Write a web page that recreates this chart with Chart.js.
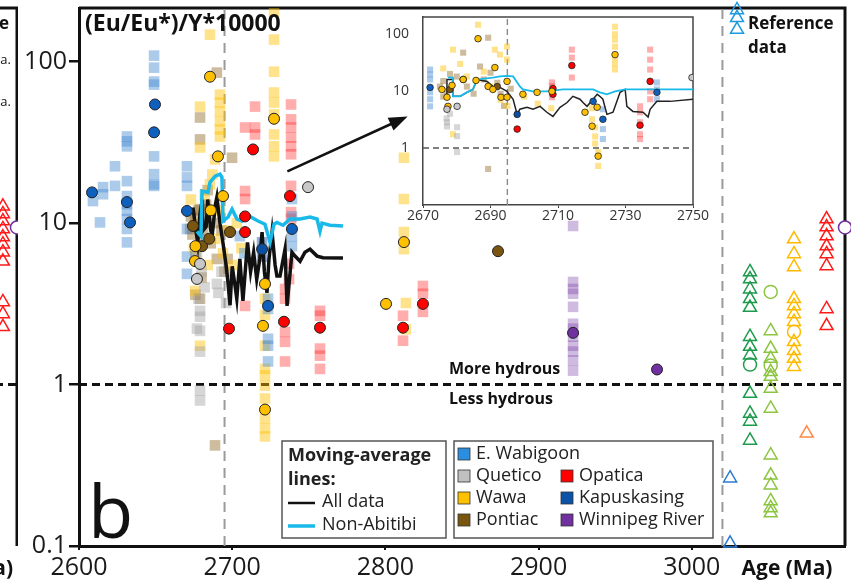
<!DOCTYPE html>
<html>
<head>
<meta charset="utf-8">
<script src="https://cdn.jsdelivr.net/npm/chart.js@4.4.0/dist/chart.umd.min.js"></script>
<style>
  html, body { margin: 0; padding: 0; background: #fff; overflow: hidden; }
  #wrap { position: relative; width: 851px; height: 583px; overflow: hidden; }
  canvas { position: absolute; }
  #prev { left: -200px; top: 0; }
  #main { left: 0; top: 0; }
  #inset { left: 370px; top: 0; }
</style>
</head>
<body>
<div id="wrap">
  <canvas id="prev" width="218" height="583"></canvas>
  <canvas id="main" width="851" height="583"></canvas>
  <canvas id="inset" width="345" height="230"></canvas>
</div>
<script>
// ages in Ma, values are (Eu/Eu*)/Y*10000
const xTicks = [2600, 2700, 2800, 2900, 3000];
const yTicks = [0.1, 1, 10, 100];
const insetXTicks = [2670, 2690, 2710, 2730, 2750];
const insetYTicks = [1, 10, 100];
const hydrousLimit = 1;
const ageCut = 2695;
const refCut = 3020;

const groups = ['E. Wabigoon', 'Quetico', 'Wawa', 'Pontiac', 'Opatica', 'Kapuskasing', 'Winnipeg River'];

// zircon analyses (squares) and sample means (circles)
const wabigoonSq = [
  [2609.1, 13.7], [2615.7, 16.7], [2615.7, 15.1], [2613.7, 10.1], [2623.5, 22.5], [2623.5, 17.0],
  [2631.3, 34.4], [2631.3, 32.1], [2631.3, 29.9], [2631.3, 18.2], [2631.3, 14.7], [2631.3, 13.1],
  [2631.3, 11.9], [2631.3, 10.6], [2631.3, 9.2], [2631.3, 7.6],
  [2649.0, 109], [2649.0, 91.8], [2649.0, 75.3], [2649.0, 72.1], [2649.0, 25.9], [2649.0, 20.1],
  [2649.0, 17.4], [2649.0, 17.0],
  [2670.5, 22.5], [2670.5, 19.2], [2670.5, 17.0], [2670.5, 9.2], [2670.5, 6.2], [2670.5, 4.85],
  [2723.4, 3.4], [2723.4, 2.94], [2723.4, 1.92], [2723.4, 1.74], [2723.4, 1.39],
  [2739.0, 14.1], [2739.0, 11.0], [2739.0, 8.3], [2739.0, 7.2], [2705, 8.3], [2708, 6.5]
];
const wabigoonDot = [[2608.5, 15.5], [2631.3, 13.5], [2633.3, 10.1], [2649.6, 54.3], [2649.0, 36.5],
  [2670.5, 11.9], [2739.0, 9.2], [2723.4, 3.07]];

const queticoSq = [[2679, 2.86], [2679, 2.63], [2677, 2.22], [2679, 2.15], [2679, 1.6], [2679, 0.918],
  [2679, 0.797], [2677, 6.5], [2680, 5], [2682, 4], [2690, 4.2], [2691, 3.7], [2693, 5], [2696, 3.2], [2678, 3.4]];
const queticoDot = [[2679, 5.59], [2677, 4.51], [2749.5, 16.7]];

const wawaSq = [
  [2685.5, 147], [2679, 52.7], [2679, 29.4], [2692, 62.5], [2692, 55.8], [2692, 49.1], [2692, 42.6],
  [2692, 38], [2692, 34.4], [2688.8, 24.8], [2685.5, 17.4],
  [2727.3, 204], [2727.3, 137], [2727.3, 86.7], [2727.3, 64.4], [2727.3, 55.8], [2727.3, 47.1],
  [2727.3, 35.4], [2727.3, 29.9], [2727.3, 25.9],
  [2675.7, 3.8], [2679, 1.74], [2721.4, 3.4], [2721.4, 2.7], [2721.4, 1.74], [2721.4, 1.25], [2721.4, 1.14],
  [2721.4, 0.986], [2721.4, 0.82], [2721.4, 0.617], [2721.4, 0.535], [2721.4, 0.477],
  [2812.1, 25.4], [2812.1, 14.1], [2812.1, 8.8], [2812.1, 6.9], [2813.4, 3.2], [2813.4, 2.2],
  [2673, 14], [2675, 7], [2677, 10], [2682, 15], [2684, 5.5], [2687, 20], [2689, 8], [2692, 12],
  [2694, 6.5], [2697, 9], [2700, 5.5], [2703, 10], [2706, 7]
];
const wawaDot = [[2685.5, 80.7], [2690.7, 25.9], [2727.3, 44.3], [2675.7, 5.82], [2721.4, 4.2], [2720.1, 2.31],
  [2721.4, 0.70], [2812.1, 7.63], [2800.4, 3.16], [2694, 14.7], [2686, 12], [2676, 7.2]];

const pontiacSq = [[2690, 85.5], [2679, 45.1], [2679, 33], [2699.9, 25.4], [2688.8, 0.42], [2679, 3.4],
  [2672.5, 9.2], [2675.7, 10.6], [2679, 12.2], [2682, 8], [2673, 11], [2674, 8.5], [2676, 6.5], [2678, 12],
  [2681, 9], [2683, 13], [2686, 7.5], [2688, 10], [2690, 6], [2693, 9], [2695, 5], [2676, 3.6], [2680, 4.6],
  [2684, 16], [2697, 6]];
const pontiacDot = [[2674.4, 9.6], [2680.3, 7.2], [2698.6, 8.8], [2873.5, 6.7], [2685, 8]];

const opaticaSq = [
  [2708.4, 39.1], [2714.9, 52.7], [2714.9, 39.1], [2714.9, 35.4],
  [2738.4, 54.3], [2738.4, 43.9], [2738.4, 39.1], [2738.4, 33.9], [2738.4, 29.9], [2738.4, 26.7],
  [2738.4, 17.0], [2738.4, 11.7], [2738.4, 10.6],
  [2708.4, 15.8], [2708.4, 14.1], [2708.4, 3.07],
  [2734.5, 3.91], [2734.5, 3.4], [2734.5, 2.12], [2734.5, 1.84], [2734.5, 1.39],
  [2757.3, 2.86], [2757.3, 2.67], [2757.3, 1.67], [2757.3, 1.51], [2757.3, 1.25],
  [2811.5, 2.67], [2811.5, 1.87], [2824.5, 4.08], [2824.5, 3.65], [2824.5, 2.82],
  [2737.1, 4.5], [2737.1, 5.6]
];
const opaticaDot = [[2713.6, 28.6], [2737.7, 14.7], [2708.4, 11.0], [2708.4, 8.8], [2697.9, 2.22],
  [2733.8, 2.45], [2757.3, 2.25], [2811.5, 2.25], [2824.5, 3.16]];

const kapuskasingSq = [[2719.5, 7.6], [2719.5, 6.2]];
const kapuskasingDot = [[2719.5, 6.9]];

const winnipegSq = [[2922.5, 9.6], [2922.5, 4.32], [2922.5, 3.91], [2922.5, 3.65], [2922.5, 3.03],
  [2922.5, 2.38], [2922.5, 2.22], [2922.5, 1.98], [2922.5, 1.74], [2922.5, 1.6], [2922.5, 1.41], [2922.5, 1.22]];
const winnipegDot = [[2922.5, 2.09], [2977.3, 1.24]];

// moving averages
const allDataAvg = [
  [2674.4, 12.5], [2676, 9.5], [2677.5, 7.5], [2679, 11.5], [2680.5, 14], [2681, 9], [2683, 9.5],
  [2684, 14], [2686, 9], [2687, 8.5], [2689, 13], [2690, 14.5], [2692, 10], [2694, 7.5], [2696, 5.5],
  [2697, 4.5], [2698.6, 3.1], [2700, 5.4], [2702, 4], [2703, 3.4], [2705, 6], [2707, 3.3], [2708.5, 5],
  [2710, 7.6], [2712, 5], [2714, 6.6], [2716, 4.5], [2718, 6], [2719.5, 8.8], [2721, 5], [2722.7, 3.7],
  [2724, 6], [2726, 8.8], [2728, 5.5], [2729.2, 4.7], [2731.2, 4.7], [2734.5, 6.9], [2735.8, 3.07],
  [2739, 6.6], [2741, 6.25], [2744.3, 5.8], [2747.5, 6.6], [2750.8, 6.9], [2755.4, 6.25], [2759.3, 6.1],
  [2772.3, 6.07]
];
const nonAbitibiAvg = [
  [2677.0, 8.9], [2679.6, 8.3], [2680.3, 15.8], [2684.2, 15.5], [2685.5, 17.9], [2688.8, 19.5],
  [2692.0, 20.1], [2693.3, 19.2], [2694.0, 10.3], [2697.3, 10.9], [2699.9, 12.2], [2703.1, 10.6],
  [2706.4, 10.3], [2711.6, 11.0], [2716.8, 10.3], [2721.4, 9.85], [2724.7, 7.6], [2727.3, 9.85],
  [2729.2, 10.1], [2733.2, 9.7], [2737.7, 10.6], [2744.3, 10.6], [2750.8, 10.9], [2755.4, 10.6],
  [2757.3, 8.9], [2758.6, 10.0], [2763.8, 9.7], [2772.3, 9.6]
];

// reference data column
const refKeyTri = [[3029.5, 209], [3029.5, 187], [3029.5, 158]];
const refBlueTri = [[3025, 0.263], [3025, 0.104]];
const refGreenTri = [[3038, 4.98], [3038, 4.5], [3038, 3.9], [3038, 3.4], [3038, 3.0], [3038, 1.98],
  [3038, 1.72], [3038, 1.52], [3038, 0.88], [3038, 0.662], [3038, 0.591], [3038, 0.451]];
const refGreenDot = [[3038, 1.33]];
const refLimeTri = [[3051.5, 2.15], [3051.5, 1.67], [3051.5, 1.45], [3051.5, 1.2], [3051.5, 1.12],
  [3051.5, 0.945], [3051.5, 0.711], [3051.5, 0.365], [3051.5, 0.274], [3051.5, 0.238], [3051.5, 0.19],
  [3051.5, 0.172], [3051.5, 0.16]];
const refLimeDot = [[3051.5, 3.75], [3051.5, 1.31]];
const refGoldTri = [[3066.7, 7.97], [3066.7, 6.44], [3066.7, 5.35], [3066.7, 3.4], [3066.7, 3.07],
  [3066.7, 2.74], [3066.7, 2.45], [3066.7, 1.84], [3066.7, 1.62], [3066.7, 1.45], [3066.7, 1.29]];
const refGoldDot = [[3066.7, 2.12]];
const refOrangeTri = [[3075, 0.499]];
const refRedTri = [[3088, 10.6], [3088, 9.45], [3088, 8.31], [3088, 7.21], [3088, 6.44], [3088, 5.43],
  [3088, 2.94], [3088, 2.31]];
const refPurpleDot = [[3100, 9.4]];

const arrowFrom = [2736, 20.9];
const arrowTo = [2814.5, 45.8];

// inset, 2670-2750 Ma
const insetWabigoonSq = [[2672.1, 23.9], [2672.1, 19.6], [2672.1, 16], [2672.1, 9.5], [2672.1, 7.2],
  [2672.1, 5.4], [2723.3, 4.8], [2723.3, 2.15], [2723.3, 1.44], [2739.3, 14.2], [2739.3, 10.7], [2739.3, 7.2]];
const insetWabigoonDot = [[2672.1, 11.6], [2720.4, 6.6], [2723.3, 3.2], [2739.3, 9.5]];
const insetKapuskasingDot = [[2697.9, 3.9]];
const insetOpaticaSq = [[2708.2, 14.2], [2708.2, 12.1], [2708.2, 9.9], [2708.2, 7.8], [2714.1, 53.4],
  [2714.1, 38.7], [2714.1, 17.3], [2734.3, 5.4], [2734.3, 4.25], [2734.3, 2.84], [2734.3, 1.75],
  [2734.3, 1.44], [2737.3, 53.4], [2737.3, 35.7], [2737.3, 23.9], [2737.3, 9.9], [2737.3, 7.2]];
const insetOpaticaDot = [[2697.9, 2.15], [2708.5, 11.1], [2708.5, 8.8], [2714.1, 28.1], [2734.3, 2.52], [2737.3, 14.8]];
const insetWawaSq = [[2678.9, 53.4], [2678.9, 1.75], [2686.3, 146], [2691.3, 53.4], [2692.8, 43.7],
  [2694.9, 35.7], [2694.9, 60.3], [2676, 25], [2681, 30], [2683, 18], [2688, 22], [2690, 12], [2693, 7],
  [2695, 5.5], [2700, 8], [2704, 6], [2708, 5], [2720, 5], [2720.1, 3.2], [2721, 2.3], [2721, 1.6],
  [2721, 1.2], [2721.9, 0.85], [2721.9, 0.485], [2726.9, 135], [2726.9, 100], [2726.9, 80], [2726.9, 60],
  [2726.9, 38], [2726.9, 30], [2726.9, 24]];
const insetWawaDot = [[2675.6, 10.7], [2677.1, 7.8], [2677.4, 5.4], [2678.6, 12.6], [2681.9, 16],
  [2685.7, 15.4], [2686.3, 83.2], [2689.3, 12.1], [2691.3, 25.9], [2690.7, 10.7], [2693.1, 7.8],
  [2694.9, 14.8], [2694.9, 7.8], [2699.6, 8.8], [2703.8, 9.5], [2708.2, 9.9], [2718, 4.25], [2720.1, 2.42],
  [2721.6, 5.2], [2721.9, 0.72], [2726.9, 43.7]];
const insetPontiacSq = [[2676, 15], [2676, 8], [2678, 20], [2681.9, 47.3], [2689.3, 86.6], [2686.9, 27],
  [2689.3, 0.43], [2675, 12], [2677, 10], [2680, 18], [2683, 12], [2685, 9], [2688, 16], [2690, 21],
  [2692, 14], [2693, 9], [2694, 5.5], [2696, 11]];
const insetPontiacDot = [[2678, 10.7], [2681.9, 16], [2692, 12]];
const insetQueticoSq = [[2677.1, 2.84], [2677.1, 2.4], [2680.1, 2.32], [2680.1, 1.62], [2680.1, 0.85],
  [2678, 4], [2677, 3.3]];
const insetQueticoDot = [[2677.1, 4.8], [2680.1, 5.4], [2749.7, 17.3]];
const insetAllAvg = [[2677.1, 8.5], [2677.1, 16], [2678.9, 16], [2678.9, 8.1], [2681, 8.1], [2683, 9.5],
  [2684.8, 10.7], [2686, 16], [2689, 14.8], [2690.7, 12.1], [2692.8, 11.6], [2694.9, 9.9], [2696.7, 7.2],
  [2697.9, 3.9], [2698.7, 4.8], [2700.8, 5.2], [2702.6, 4.8], [2704.7, 5.4], [2706.7, 4.25], [2708.5, 3.6],
  [2710.6, 5.2], [2712.7, 6.3], [2714.4, 8.1], [2716.5, 7.2], [2717.4, 6.3], [2718.6, 5.4], [2720.4, 7.2],
  [2721.6, 8.8], [2722.4, 8.1], [2723.3, 7.2], [2724.5, 3.9], [2726.3, 4.25], [2728.4, 9.5], [2729.9, 10.7],
  [2730.4, 5.4], [2732.2, 4.4], [2735.2, 4.25], [2736.7, 3.5], [2737.3, 4.8], [2739.3, 6.6], [2743.2, 6.6],
  [2750, 7.2]];
const insetNonAbitibiAvg = [[2677.4, 17.3], [2678.9, 17.3], [2678.9, 8.1], [2681, 8.1], [2683, 9.5],
  [2684.8, 10.7], [2686, 16], [2690.7, 17.3], [2692.8, 18.1], [2694.9, 18.5], [2696.7, 18.1], [2698.7, 12.1],
  [2699.6, 10.7], [2702.6, 9.9], [2706.7, 9.9], [2711.5, 10.7], [2716.5, 10.7], [2720.4, 10.7], [2722.4, 9.5],
  [2724.5, 8.8], [2726.9, 9.9], [2729.9, 10.7], [2750, 10.7]];

// previous panel edge
const prevRedTri = [[0.935, 12.7], [0.935, 11.4], [0.935, 10.3], [0.935, 9.2], [0.935, 8.2], [0.935, 7.4],
  [0.935, 6.6], [0.935, 5.8], [0.935, 3.25], [0.935, 2.74], [0.935, 2.28]];
const prevPurpleDot = [[1, 9.4]];

// ---- styling ----
const FONT = "'Open Sans', 'DejaVu Sans', sans-serif";
Chart.defaults.font.family = FONT;

const groupColor = {
  'E. Wabigoon': '#2a8fe0', 'Quetico': '#c0c0c0', 'Wawa': '#ffc000', 'Pontiac': '#7a5510',
  'Opatica': '#ff0000', 'Kapuskasing': '#0b52a8', 'Winnipeg River': '#7030a0'
};
const squareFill = {
  'E. Wabigoon': 'rgba(70,140,210,0.45)', 'Quetico': 'rgba(165,165,165,0.45)', 'Wawa': 'rgba(255,192,0,0.45)',
  'Pontiac': 'rgba(135,95,25,0.42)', 'Opatica': 'rgba(255,40,40,0.38)', 'Kapuskasing': 'rgba(10,80,170,0.45)',
  'Winnipeg River': 'rgba(112,48,160,0.33)'
};
const dotFill = {
  'E. Wabigoon': '#0f5fbd', 'Quetico': '#c8c8c8', 'Wawa': '#ffc000', 'Pontiac': '#7a5510',
  'Opatica': '#ff0000', 'Kapuskasing': '#0b4fa0', 'Winnipeg River': '#7030a0'
};
const CYAN = '#19b9e9';

const pts = arr => arr.map(([x, y]) => ({ x, y }));

function squares(arr, name, r) {
  return { data: pts(arr), pointStyle: 'rect', pointRadius: r, backgroundColor: squareFill[name],
    borderWidth: 0, showLine: false };
}
function dots(arr, fill, r, bw) {
  return { data: pts(arr), pointStyle: 'circle', pointRadius: r, backgroundColor: fill,
    borderColor: '#222', borderWidth: bw, showLine: false };
}
function hollow(arr, style, color, r) {
  return { data: pts(arr), pointStyle: style, pointRadius: r, backgroundColor: 'rgba(255,255,255,0)',
    borderColor: color, borderWidth: 1.5, showLine: false, clip: false };
}
function line(arr, color, w, dash) {
  return { data: pts(arr), showLine: true, pointRadius: 0, borderColor: color, borderWidth: w,
    borderDash: dash || [], tension: 0, fill: false };
}
// keep axis boxes at their fixed sizes, no extra label padding
function fixX(h) {
  return s => { s.height = h; s.paddingLeft = 0; s.paddingRight = 0; };
}
function fixY(w) {
  return s => { s.width = w; s.paddingTop = 0; s.paddingBottom = 0; };
}

// ---- main panel ----
const mainDecor = {
  id: 'mainDecor',
  beforeDatasetsDraw(chart) {
    const { ctx, chartArea: a } = chart;
    ctx.save();
    ctx.strokeStyle = '#111';
    ctx.lineWidth = 3;
    ctx.beginPath();
    ctx.moveTo(a.left, a.top);
    ctx.lineTo(a.right, a.top);
    ctx.lineTo(a.right, a.bottom);
    ctx.stroke();
    ctx.restore();
  },
  afterDatasetsDraw(chart) {
    const { ctx, scales: { x, y } } = chart;
    const x0 = x.getPixelForValue(arrowFrom[0]), y0 = y.getPixelForValue(arrowFrom[1]);
    const x1 = x.getPixelForValue(arrowTo[0]), y1 = y.getPixelForValue(arrowTo[1]);
    const ang = Math.atan2(y1 - y0, x1 - x0);
    const head = 20;
    ctx.save();
    ctx.strokeStyle = '#111';
    ctx.fillStyle = '#111';
    ctx.lineWidth = 2.5;
    ctx.beginPath();
    ctx.moveTo(x0, y0);
    ctx.lineTo(x1 - head * 0.7 * Math.cos(ang), y1 - head * 0.7 * Math.sin(ang));
    ctx.stroke();
    ctx.beginPath();
    ctx.moveTo(x1, y1);
    ctx.lineTo(x1 - head * Math.cos(ang - 0.36), y1 - head * Math.sin(ang - 0.36));
    ctx.lineTo(x1 - head * Math.cos(ang + 0.36), y1 - head * Math.sin(ang + 0.36));
    ctx.closePath();
    ctx.fill();
    ctx.restore();
  },
  afterDraw(chart) {
    const { ctx, chartArea: a, scales: { y } } = chart;
    const yOne = y.getPixelForValue(hydrousLimit);
    ctx.save();
    ctx.fillStyle = '#111';
    ctx.textBaseline = 'middle';
    ctx.textAlign = 'left';

    ctx.font = 'bold 23px ' + FONT;
    ctx.fillText('(Eu/Eu*)/Y*10000', a.left + 6, a.top + 16);

    ctx.font = '74px ' + FONT;
    ctx.textBaseline = 'alphabetic';
    ctx.fillText('b', a.left + 9, a.bottom - 8);
    ctx.textBaseline = 'middle';

    ctx.font = 'bold 16px ' + FONT;
    ctx.fillText('More hydrous', 449, yOne - 15);
    ctx.fillText('Less hydrous', 449, yOne + 15);

    ctx.font = 'bold 17px ' + FONT;
    ctx.fillText('Reference', 748, 24);
    ctx.fillText('data', 748, 48);

    ctx.font = 'bold 21px ' + FONT;
    ctx.textAlign = 'center';
    ctx.fillText('Age (Ma)', 787, 569);
    ctx.textAlign = 'left';

    // legend boxes
    ctx.fillStyle = '#fff';
    ctx.strokeStyle = '#555';
    ctx.lineWidth = 1.5;
    ctx.fillRect(282, 441, 164, 97);
    ctx.strokeRect(282, 441, 164, 97);
    ctx.fillRect(454, 441, 259, 97);
    ctx.strokeRect(454, 441, 259, 97);

    // moving-average lines
    ctx.fillStyle = '#222';
    ctx.font = 'bold 18px ' + FONT;
    ctx.fillText('Moving-average', 288, 456);
    ctx.fillText('lines:', 288, 480);
    ctx.font = '18px ' + FONT;
    ctx.fillText('All data', 322, 502);
    ctx.fillText('Non-Abitibi', 322, 525);
    ctx.lineWidth = 2.5;
    ctx.strokeStyle = '#111';
    ctx.beginPath(); ctx.moveTo(288, 503); ctx.lineTo(315, 503); ctx.stroke();
    ctx.lineWidth = 3.5;
    ctx.strokeStyle = CYAN;
    ctx.beginPath(); ctx.moveTo(288, 526); ctx.lineTo(315, 526); ctx.stroke();

    // domains
    const colX = [458, 561];
    const rowY = [454, 476, 498, 520];
    const cell = [[0, 0], [0, 1], [0, 2], [0, 3], [1, 1], [1, 2], [1, 3]];
    groups.forEach((name, i) => {
      const cx = colX[cell[i][0]], cy = rowY[cell[i][1]];
      ctx.fillStyle = groupColor[name];
      ctx.fillRect(cx, cy - 6, 12, 12);
      ctx.strokeStyle = '#333';
      ctx.lineWidth = 0.8;
      ctx.strokeRect(cx, cy - 6, 12, 12);
      ctx.fillStyle = '#222';
      ctx.fillText(name, cx + 18, cy);
    });
    ctx.restore();
  }
};

const groupSets = [
  ['E. Wabigoon', wabigoonSq, wabigoonDot], ['Quetico', queticoSq, queticoDot], ['Wawa', wawaSq, wawaDot],
  ['Pontiac', pontiacSq, pontiacDot], ['Opatica', opaticaSq, opaticaDot],
  ['Kapuskasing', kapuskasingSq, kapuskasingDot], ['Winnipeg River', winnipegSq, winnipegDot]
];

const mainSets = [
  Object.assign(dots(refPurpleDot, '#fff', 6.5, 1.5), { borderColor: '#7030a0', clip: false }),
  hollow(refKeyTri, 'triangle', '#1e9be0', 7.5),
  hollow(refBlueTri, 'triangle', '#2a7ad4', 7.5),
  hollow(refGreenTri, 'triangle', '#1e9a4c', 7.5),
  hollow(refGreenDot, 'circle', '#1e9a4c', 6.5),
  hollow(refLimeTri, 'triangle', '#8cc540', 7.5),
  hollow(refLimeDot, 'circle', '#8cc540', 6.5),
  hollow(refGoldTri, 'triangle', '#ffba00', 7.5),
  hollow(refGoldDot, 'circle', '#ffba00', 6.5),
  hollow(refOrangeTri, 'triangle', '#ff8a45', 7.5),
  hollow(refRedTri, 'triangle', '#ff1a1a', 7.5),
  ...groupSets.map(g => dots(g[2], dotFill[g[0]], 5.5, 1)),
  line(nonAbitibiAvg, CYAN, 3.5),
  line(allDataAvg, '#111', 3.5),
  ...groupSets.map(g => squares(g[1], g[0], 7.5)),
  line([[2600, hydrousLimit], [3100, hydrousLimit]], '#111', 3, [8, 5]),
  line([[ageCut, 0.1], [ageCut, 215]], '#9a9a9a', 2, [10, 7]),
  line([[refCut, 0.1], [refCut, 215]], '#9a9a9a', 2, [10, 7])
];

new Chart(document.getElementById('main'), {
  type: 'scatter',
  data: { datasets: mainSets },
  options: {
    responsive: false,
    animation: false,
    events: [],
    layout: { autoPadding: false, padding: { top: 8, right: 6, left: 0, bottom: 0 } },
    plugins: { legend: { display: false }, tooltip: { enabled: false } },
    scales: {
      x: {
        type: 'linear', min: 2600, max: 3100,
        afterBuildTicks: s => { s.ticks = xTicks.map(v => ({ value: v })); },
        afterFit: fixX(37),
        ticks: { font: { size: 25 }, color: '#1a1a1a', padding: 3, maxRotation: 0, autoSkip: false,
          callback: v => String(v) },
        grid: { display: true, drawOnChartArea: false, drawTicks: true, tickLength: 4, color: '#111', lineWidth: 2 },
        border: { display: true, color: '#111', width: 3 }
      },
      y: {
        type: 'logarithmic', min: 0.1, max: 215,
        afterBuildTicks: s => { s.ticks = yTicks.map(v => ({ value: v })); },
        afterFit: fixY(79),
        ticks: { font: { size: 25 }, color: '#1a1a1a', padding: 2, autoSkip: false, callback: v => String(v) },
        grid: { display: true, drawOnChartArea: false, drawTicks: true, tickLength: 10, color: '#111', lineWidth: 2.5 },
        border: { display: true, color: '#111', width: 3 }
      }
    }
  },
  plugins: [mainDecor]
});

// ---- inset ----
const insetFrame = {
  id: 'insetFrame',
  beforeDraw(chart) {
    const { ctx, chartArea: a } = chart;
    ctx.save();
    ctx.fillStyle = '#fff';
    ctx.fillRect(a.left, a.top, a.right - a.left, a.bottom - a.top);
    ctx.restore();
  },
  beforeDatasetsDraw(chart) {
    const { ctx, chartArea: a } = chart;
    ctx.save();
    ctx.strokeStyle = '#444';
    ctx.lineWidth = 1.5;
    ctx.beginPath();
    ctx.moveTo(a.left, a.top);
    ctx.lineTo(a.right, a.top);
    ctx.lineTo(a.right, a.bottom);
    ctx.stroke();
    ctx.restore();
  }
};

const insetGroups = [
  ['E. Wabigoon', insetWabigoonSq, insetWabigoonDot], ['Quetico', insetQueticoSq, insetQueticoDot],
  ['Wawa', insetWawaSq, insetWawaDot], ['Pontiac', insetPontiacSq, insetPontiacDot],
  ['Opatica', insetOpaticaSq, insetOpaticaDot], ['Kapuskasing', [], insetKapuskasingDot]
];

new Chart(document.getElementById('inset'), {
  type: 'scatter',
  data: {
    datasets: [
      ...insetGroups.map(g => dots(g[2], dotFill[g[0]], 3.3, 0.8)),
      line(insetNonAbitibiAvg, CYAN, 1.8),
      line(insetAllAvg, '#222', 1.5),
      ...insetGroups.map(g => squares(g[1], g[0], 4.3)),
      line([[2670, hydrousLimit], [2750, hydrousLimit]], '#555', 1.6, [6, 4]),
      line([[ageCut, 0.1], [ageCut, 200]], '#8a8a8a', 1.4, [6, 4])
    ]
  },
  options: {
    responsive: false,
    animation: false,
    events: [],
    layout: { autoPadding: false, padding: { top: 17, right: 22, left: 0, bottom: 0 } },
    plugins: { legend: { display: false }, tooltip: { enabled: false } },
    scales: {
      x: {
        type: 'linear', min: 2670, max: 2750,
        afterBuildTicks: s => { s.ticks = insetXTicks.map(v => ({ value: v })); },
        afterFit: fixX(25),
        ticks: { font: { size: 14 }, color: '#333', padding: 0, maxRotation: 0, autoSkip: false,
          callback: v => String(v) },
        grid: { display: true, drawOnChartArea: false, drawTicks: true, tickLength: 3, color: '#444', lineWidth: 1 },
        border: { display: true, color: '#444', width: 1.5 }
      },
      y: {
        type: 'logarithmic', min: 0.1, max: 200,
        afterBuildTicks: s => { s.ticks = insetYTicks.map(v => ({ value: v })); },
        afterFit: fixY(53),
        ticks: { font: { size: 14 }, color: '#333', padding: 6, autoSkip: false, callback: v => String(v) },
        grid: { display: false },
        border: { display: true, color: '#444', width: 1.5 }
      }
    }
  },
  plugins: [insetFrame]
});

// ---- right edge of the previous panel ----
const prevFrame = {
  id: 'prevFrame',
  beforeDatasetsDraw(chart) {
    const { ctx, chartArea: a } = chart;
    ctx.save();
    ctx.strokeStyle = '#111';
    ctx.lineWidth = 3;
    ctx.beginPath();
    ctx.moveTo(a.left, a.top);
    ctx.lineTo(a.right, a.top);
    ctx.lineTo(a.right, a.bottom);
    ctx.stroke();
    ctx.restore();
  },
  afterDraw(chart) {
    const { ctx, chartArea: a } = chart;
    ctx.save();
    ctx.fillStyle = '#111';
    ctx.textBaseline = 'middle';
    ctx.textAlign = 'right';
    ctx.font = 'bold 17px ' + FONT;
    ctx.fillText('Reference', a.right - 8, 24);
    ctx.font = '13px ' + FONT;
    ctx.fillText('Ga.', a.right - 6, 60);
    ctx.fillText('Ga.', a.right - 6, 102);
    ctx.font = 'bold 21px ' + FONT;
    ctx.fillText('Age (Ma)', a.right - 4, 569);
    ctx.restore();
  }
};

new Chart(document.getElementById('prev'), {
  type: 'scatter',
  data: {
    datasets: [
      Object.assign(dots(prevPurpleDot, '#fff', 6.5, 1.5), { borderColor: '#7030a0', clip: false }),
      hollow(prevRedTri, 'triangle', '#ff1a1a', 7.5),
      line([[0, hydrousLimit], [1, hydrousLimit]], '#111', 3, [8, 5])
    ]
  },
  options: {
    responsive: false,
    animation: false,
    events: [],
    layout: { autoPadding: false, padding: { top: 8, right: 1, left: 0, bottom: 37 } },
    plugins: { legend: { display: false }, tooltip: { enabled: false } },
    scales: {
      x: { type: 'linear', min: 0, max: 1, display: false },
      y: { type: 'logarithmic', min: 0.1, max: 215, display: false }
    }
  },
  plugins: [prevFrame]
});
</script>
</body>
</html>
